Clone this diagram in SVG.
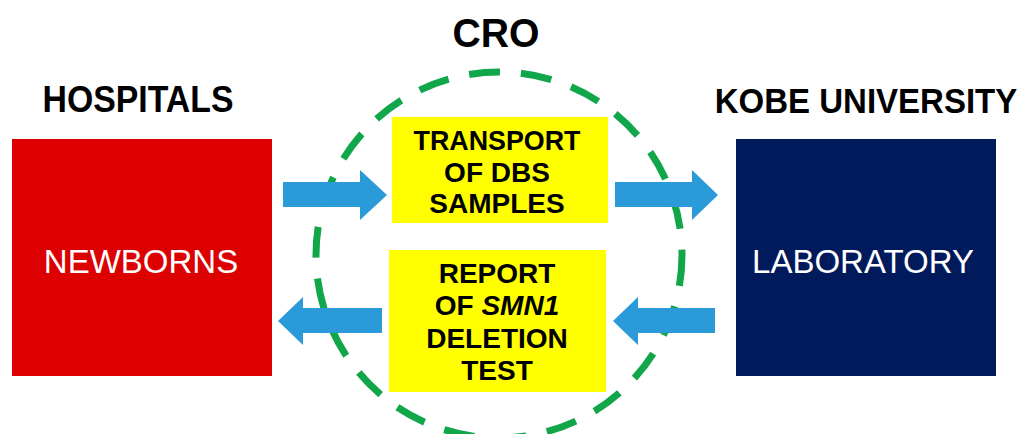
<svg xmlns="http://www.w3.org/2000/svg" width="1029" height="434" viewBox="0 0 1029 434">
<style>
.t{font-family:"Liberation Sans",Arial,sans-serif;font-weight:bold;fill:#000;text-anchor:middle}
.w{font-family:"Liberation Sans",Arial,sans-serif;fill:#fff;text-anchor:middle;font-size:33px}
.y{font-family:"Liberation Sans",Arial,sans-serif;font-weight:bold;fill:#000;text-anchor:middle;font-size:28px}
.arr{fill:#2a9ad8}
</style>
<rect width="1029" height="434" fill="#fff"/>
<g id="cro">
<circle cx="499" cy="255" r="183" fill="none" stroke="#12a64a" stroke-width="7" stroke-dasharray="31 21"/>
<text class="t" x="496" y="47" font-size="40" textLength="87" lengthAdjust="spacingAndGlyphs">CRO</text>
</g>
<g id="hospitals">
<text class="t" x="138" y="112" font-size="37" textLength="191" lengthAdjust="spacingAndGlyphs">HOSPITALS</text>
<rect x="12" y="139" width="260" height="237" fill="#dd0000"/>
<text class="w" x="141" y="273">NEWBORNS</text>
</g>
<g id="kobe">
<text class="t" transform="translate(866,113) scale(1,1.06)" x="0" y="0" font-size="33">KOBE UNIVERSITY</text>
<rect x="736" y="139" width="260" height="237" fill="#001a5c"/>
<text class="w" x="863" y="273">LABORATORY</text>
</g>
<g id="transport">
<rect x="392" y="117" width="216" height="106" fill="#ffff00"/>
<text class="y" x="497" y="150" textLength="167" lengthAdjust="spacingAndGlyphs">TRANSPORT</text>
<text class="y" x="497" y="182">OF DBS</text>
<text class="y" x="497" y="213">SAMPLES</text>
</g>
<g id="report">
<rect x="389" y="250" width="217" height="142" fill="#ffff00"/>
<text class="y" x="497" y="283">REPORT</text>
<text class="y" x="497" y="315">OF <tspan font-style="italic">SMN1</tspan></text>
<text class="y" x="497" y="348">DELETION</text>
<text class="y" x="497" y="380">TEST</text>
</g>
<g id="connectors">
<polygon class="arr" points="283,182 360,182 360,170 387,195 360,220 360,207 283,207"/>
<polygon class="arr" points="615,182 692,182 692,170 718,195 692,220 692,207 615,207"/>
<polygon class="arr" points="382,308 303,308 303,297 278,321 303,345 303,333 382,333"/>
<polygon class="arr" points="715,308 638,308 638,297 613,321 638,345 638,333 715,333"/>
</g>
</svg>
